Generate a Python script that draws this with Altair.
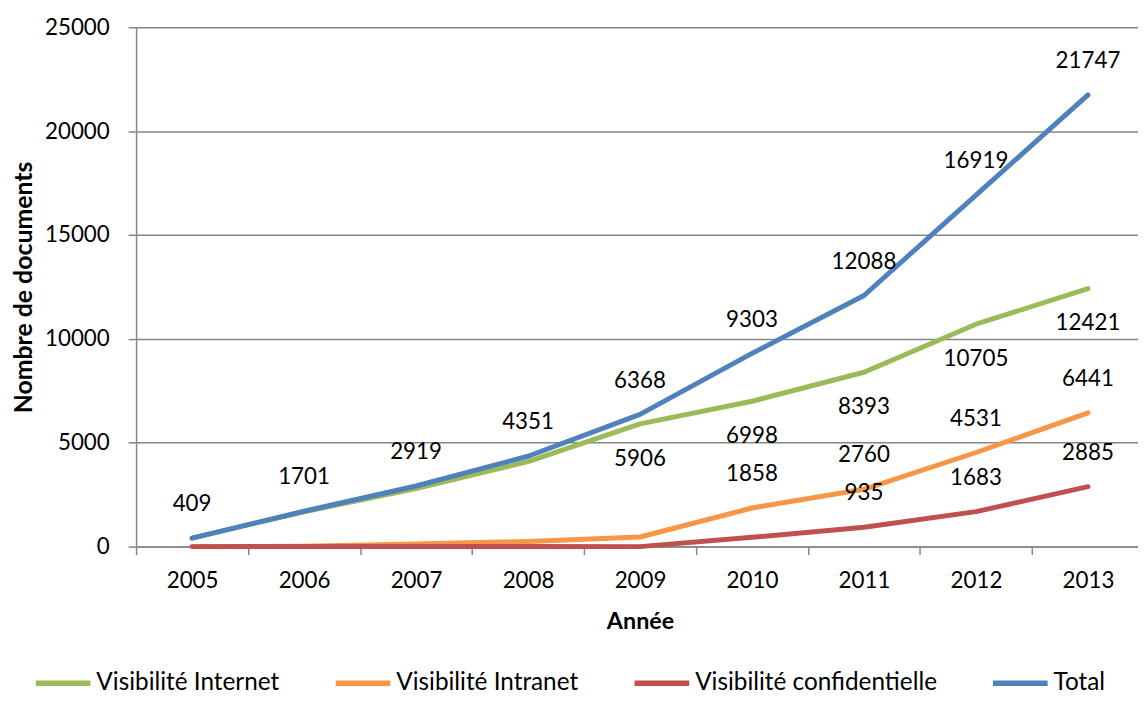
import altair as alt
import pandas as pd

# ---- data ----
years = [2005, 2006, 2007, 2008, 2009, 2010, 2011, 2012, 2013]
series_names = ["Visibilité Internet", "Visibilité Intranet",
                "Visibilité confidentielle", "Total"]
internet = [409, 1680, 2790, 4095, 5906, 6998, 8393, 10705, 12421]
intranet = [0, 20, 125, 250, 462, 1858, 2760, 4531, 6441]
confidentielle = [0, 1, 4, 6, 0, 447, 935, 1683, 2885]
total = [409, 1701, 2919, 4351, 6368, 9303, 12088, 16919, 21747]
first_labelled_year = [2009, 2010, 2011, 2005]
colors = ["#9BBB59", "#F79646", "#C0504D", "#4F81BD"]
y_ticks = [0, 5000, 10000, 15000, 20000, 25000]
x_tick_bounds = [2004.5, 2005.5, 2006.5, 2007.5, 2008.5, 2009.5, 2010.5, 2011.5, 2012.5]

values = [internet, intranet, confidentielle, total]
rows = []
for name, vals, first in zip(series_names, values, first_labelled_year):
    for yr, v in zip(years, vals):
        rows.append({"series": name, "year": yr, "value": v, "labelled": yr >= first})
df = pd.DataFrame(rows)

FONT = "Lato"
base = alt.Chart(df)

x = alt.X(
    "year:Q",
    scale=alt.Scale(domain=[2004.5, 2013.5], range=[0, 1015], nice=False, zero=False),
    axis=alt.Axis(
        values=x_tick_bounds,
        labelExpr="toString(datum.value + 0.5)",
        labelOffset=56.4,
        labelFlush=False,
        labelOverlap=False,
        labelBaseline="middle",
        labelPadding=26,
        tickSize=8,
        grid=False,
        title="Année",
        titleX=507.5,
        titleY=75,
        titleFontSize=23.5,
        titleBaseline="middle",
        titleAlign="center",
    ),
)
y = alt.Y(
    "value:Q",
    scale=alt.Scale(domain=[0, 25000], nice=False),
    axis=alt.Axis(
        values=y_ticks,
        format="d",
        grid=True,
        tickSize=8,
        labelPadding=19,
        title="Nombre de documents",
        titleX=-113,
        titleY=261.5,
        titleAngle=270,
        titleFontSize=25,
        titleBaseline="middle",
        titleAlign="center",
    ),
)
color = alt.Color(
    "series:N",
    scale=alt.Scale(domain=series_names, range=colors),
    legend=alt.Legend(
        title=None,
        orient="none",
        legendX=-104,
        legendY=630,
        direction="horizontal",
        symbolType="stroke",
        symbolSize=3025,
        symbolStrokeWidth=5.5,
        labelFont=FONT,
        labelFontSize=24.5,
        labelColor="#000000",
        labelOffset=3,
        columnPadding=45,
        labelLimit=500,
    ),
)

layers = []
for name in series_names:
    layers.append(
        base.transform_filter(alt.datum.series == name)
        .mark_line(strokeWidth=5, strokeCap="round", strokeJoin="round")
        .encode(x=x, y=y, color=color)
    )

labels_above = (
    base.transform_filter("datum.labelled && datum.series !== 'Visibilité Internet'")
    .mark_text(dy=-34, font=FONT, fontSize=22.5, color="#000000", baseline="middle", align="center")
    .encode(x=x, y=y, text=alt.Text("value:Q", format="d"))
)
labels_below = (
    base.transform_filter("datum.labelled && datum.series === 'Visibilité Internet'")
    .mark_text(dy=35, font=FONT, fontSize=22.5, color="#000000", baseline="middle", align="center")
    .encode(x=x, y=y, text=alt.Text("value:Q", format="d"))
)

chart = (
    alt.layer(*layers, labels_above, labels_below)
    .properties(
        width=1009,
        height=523,
        autosize=alt.AutoSizeParams(type="none"),
        padding={"left": 129, "top": 17, "right": 0, "bottom": 146},
        background="#ffffff",
    )
    .configure_view(stroke=None)
    .configure_axis(
        labelFont=FONT,
        labelFontSize=22.5,
        labelColor="#000000",
        titleFont=FONT,
        titleFontWeight="bold",
        titleColor="#000000",
        domainColor="#868686",
        domainWidth=1.5,
        tickColor="#868686",
        tickWidth=1.5,
        gridColor="#868686",
        gridWidth=1.5,
    )
)

chart.save("out.html", embed_options={"renderer": "svg", "actions": False})
